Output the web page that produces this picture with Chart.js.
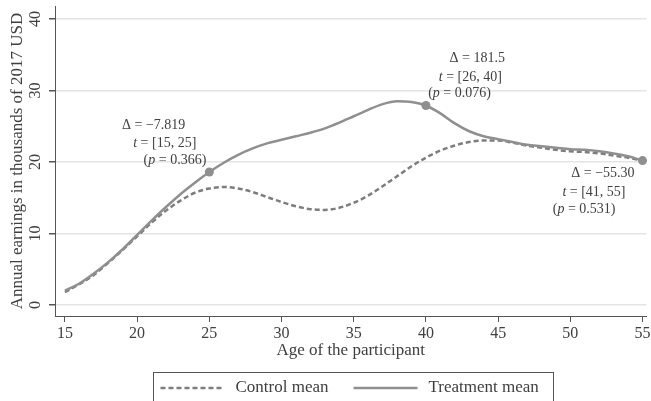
<!DOCTYPE html>
<html>
<head>
<meta charset="utf-8">
<script src="https://cdn.jsdelivr.net/npm/chart.js@4.4.0/dist/chart.umd.min.js"></script>
<style>
html, body { margin: 0; padding: 0; background: #fff; overflow: hidden; }
</style>
</head>
<body>
<canvas id="chart" width="651" height="401"></canvas>
<script>
/*********************************  Data  *****************************/
var ages = [15, 16, 17, 18, 19, 20, 21, 22, 23, 24, 25, 26, 27, 28, 29, 30, 31, 32, 33, 34, 35,
            36, 37, 38, 39, 40, 41, 42, 43, 44, 45, 46, 47, 48, 49, 50, 51, 52, 53, 54, 55];
var controlMean = [1.8, 2.9, 4.2, 5.9, 7.7, 9.6, 11.5, 13.2, 14.6, 15.7, 16.3, 16.5, 16.3, 15.8, 15.1, 14.4,
                   13.8, 13.4, 13.3, 13.6, 14.3, 15.3, 16.6, 18.0, 19.4, 20.6, 21.6, 22.3, 22.8, 23.0, 23.0,
                   22.7, 22.3, 22.0, 21.7, 21.5, 21.4, 21.2, 20.9, 20.6, 20.2];
var treatmentMean = [2.0, 3.0, 4.4, 6.0, 7.8, 9.8, 11.8, 13.7, 15.5, 17.1, 18.6, 19.9, 21.0, 21.9, 22.6, 23.1,
                     23.6, 24.1, 24.7, 25.5, 26.4, 27.3, 28.1, 28.5, 28.4, 27.9, 26.8, 25.4, 24.3, 23.6, 23.2,
                     22.8, 22.4, 22.2, 22.0, 21.8, 21.7, 21.5, 21.2, 20.8, 20.2];
var xTicks = [15, 20, 25, 30, 35, 40, 45, 50, 55];
var yTicks = [0, 10, 20, 30, 40];
var seriesNames = ['Control mean', 'Treatment mean'];

// the three test windows, marked on the treatment curve
var noteAges = [25, 40, 55];
var noteDelta = ['\u22127.819', '181.5', '\u221255.30'];
var noteRange = ['[15, 25]', '[26, 40]', '[41, 55]'];
var noteP = ['0.366', '0.076', '0.531'];

var serif = "'Liberation Serif', 'DejaVu Serif', serif";
var textColor = '#404040';
var axisColor = '#555555';

function points(vals) {
    var out = [];
    for (var i = 0; i < ages.length; i++) out.push({x: ages[i], y: vals[i]});
    return out;
}

/****************************  Annotations  ***************************/
// [dx of right end, dy] of each text line, relative to the marker
var noteLayout = [
    [[-24, -47], [-13, -29], [-3, -12]],
    [[79, -47], [76, -28], [65, -12]],
    [[-8, 13], [-17, 32], [-27, 49]]
];

function drawRich(ctx, segs, right, y) {
    var total = 0;
    segs.forEach(function(s) {
        ctx.font = (s[1] ? 'italic ' : '') + '14px ' + serif;
        total += ctx.measureText(s[0]).width;
    });
    var x = right - total;
    segs.forEach(function(s) {
        ctx.font = (s[1] ? 'italic ' : '') + '14px ' + serif;
        ctx.fillText(s[0], x, y);
        x += ctx.measureText(s[0]).width;
    });
}

var notesPlugin = {
    id: 'notes',
    afterDatasetsDraw: function(chart) {
        var ctx = chart.ctx, xs = chart.scales.x, ys = chart.scales.y;
        ctx.save();
        ctx.fillStyle = textColor;
        ctx.textAlign = 'left';
        ctx.textBaseline = 'middle';
        for (var i = 0; i < noteAges.length; i++) {
            var idx = ages.indexOf(noteAges[i]);
            var px = xs.getPixelForValue(noteAges[i]);
            var py = ys.getPixelForValue(treatmentMean[idx]);
            var lay = noteLayout[i];
            drawRich(ctx, [['\u0394 = ' + noteDelta[i], false]], px + lay[0][0], py + lay[0][1]);
            drawRich(ctx, [['t', true], [' = ' + noteRange[i], false]], px + lay[1][0], py + lay[1][1]);
            drawRich(ctx, [['(', false], ['p', true], [' = ' + noteP[i] + ')', false]], px + lay[2][0], py + lay[2][1]);
        }
        ctx.restore();
    }
};

/*******************************  Legend  *****************************/
var legendPlugin = {
    id: 'boxLegend',
    afterDraw: function(chart) {
        var ctx = chart.ctx, area = chart.chartArea;
        var cx = (area.left + area.right) / 2;
        var left = Math.round(cx - 198) + 0.5, top = 372.5, w = 400, h = 34;
        ctx.save();
        ctx.strokeStyle = axisColor;
        ctx.lineWidth = 1;
        ctx.strokeRect(left, top, w, h);
        ctx.font = '17px ' + serif;
        ctx.textBaseline = 'middle';
        ctx.fillStyle = textColor;
        var x = left + 7, y = 388;
        var legendOrder = [0, 1];
        legendOrder.forEach(function(di) {
            var ds = chart.data.datasets[di];
            ctx.beginPath();
            ctx.setLineDash(ds.borderDash || []);
            ctx.strokeStyle = ds.borderColor;
            ctx.lineWidth = ds.borderWidth;
            ctx.moveTo(x, y);
            ctx.lineTo(x + 64, y);
            ctx.stroke();
            ctx.setLineDash([]);
            x += 75;
            ctx.fillText(ds.label, x, y);
            x += ctx.measureText(ds.label).width + 25;
        });
        ctx.restore();
    }
};

/*******************************  Chart  ******************************/
var ctx = document.getElementById('chart');
var chart = new Chart(ctx, {
    type: 'line',
    data: {
        datasets: [{
            label: seriesNames[0],
            data: points(controlMean),
            borderColor: '#7d7d7d',
            backgroundColor: '#7d7d7d',
            borderWidth: 2.5,
            borderDash: [5, 3],
            cubicInterpolationMode: 'monotone',
            pointRadius: 0,
            order: 1
        }, {
            label: seriesNames[1],
            data: points(treatmentMean),
            borderColor: '#8f8f8f',
            backgroundColor: '#8f8f8f',
            borderWidth: 2.5,
            cubicInterpolationMode: 'monotone',
            pointRadius: function(c) {
                return noteAges.indexOf(ages[c.dataIndex]) >= 0 ? 4.5 : 0;
            },
            pointBorderWidth: 0,
            order: 0
        }]
    },
    options: {
        responsive: false,
        devicePixelRatio: 1,
        animation: false,
        clip: false,
        layout: { padding: { top: 6, right: 0, bottom: 35, left: 0 } },
        plugins: {
            legend: { display: false },
            tooltip: { enabled: false }
        },
        scales: {
            x: {
                type: 'linear',
                min: 14.313,
                max: 55.275,
                afterBuildTicks: function(s) { s.ticks = xTicks.map(function(v) { return {value: v}; }); },
                afterFit: function(s) { s.height = 50; s.paddingLeft = 0; s.paddingRight = 0; },
                grid: { drawOnChartArea: false, drawTicks: true, tickLength: 6, tickColor: axisColor },
                border: { display: true, color: axisColor, width: 1 },
                ticks: {
                    color: textColor, padding: 2, maxRotation: 0, autoSkip: false,
                    font: { family: serif, size: 16 }
                },
                title: {
                    display: true, text: 'Age of the participant', color: textColor,
                    font: { family: serif, size: 17 }, padding: { top: 0, bottom: 5 }
                }
            },
            y: {
                min: -1.54,
                max: 41.82,
                afterBuildTicks: function(s) { s.ticks = yTicks.map(function(v) { return {value: v}; }); },
                afterFit: function(s) { s.width = 55; s.paddingTop = 0; s.paddingBottom = 0; },
                grid: { color: '#e4e4e4', lineWidth: 1.5, drawTicks: true, tickLength: 6, tickColor: axisColor },
                border: { display: true, color: axisColor, width: 1 },
                ticks: {
                    color: textColor, padding: 5, minRotation: 90, maxRotation: 90, crossAlign: 'center',
                    autoSkip: false, font: { family: serif, size: 16 }
                },
                title: {
                    display: true, text: 'Annual earnings in thousands of 2017 USD', color: textColor,
                    font: { family: serif, size: 17 }, padding: { top: 7, bottom: 0 }
                }
            }
        }
    },
    plugins: [notesPlugin, legendPlugin]
});
</script>
</body>
</html>
